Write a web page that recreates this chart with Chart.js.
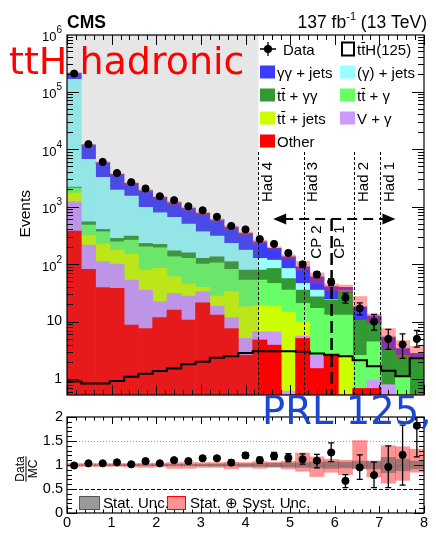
<!DOCTYPE html>
<html>
<head>
<meta charset="utf-8">
<script src="https://cdn.jsdelivr.net/npm/chart.js@4.4.1/dist/chart.umd.min.js"></script>
<style>
  html, body { margin: 0; padding: 0; background: #fff; }
  #wrap { position: relative; width: 436px; height: 533px; overflow: hidden; background: #fff; }
  #main { position: absolute; left: 0; top: 0; width: 436px; height: 400px; }
  #ratio { position: absolute; left: 0; top: 400px; width: 436px; height: 133px; }
  #prl { position: absolute; left: 262px; top: 392px; font: 38.5px "DejaVu Sans", sans-serif; line-height: 1;
         color: #1c46d0; white-space: nowrap; pointer-events: none; }
</style>
</head>
<body>
<div id="wrap">
  <canvas id="main" width="436" height="400"></canvas>
  <canvas id="ratio" width="436" height="133"></canvas>
  <div id="prl">PRL 125,</div>
</div>
<script>
// ---- binning: 25 bins over the transformed BDT score [0, 8] ----
const binCenters = [0.16, 0.48, 0.80, 1.12, 1.44, 1.76, 2.08, 2.40, 2.72, 3.04, 3.36, 3.68, 4.00,
                    4.32, 4.64, 4.96, 5.28, 5.60, 5.92, 6.24, 6.56, 6.88, 7.20, 7.52, 7.84];

// ---- background components (events per bin) ----
const other   = [375, 81, 39, 38, 8.7, 7.6, 11.8, 15.8, 10.6, 21.2, 13, 7.6, 2.6, 4.8, 3.9, 0, 5.1, 1.53, 2.6, 0, 0.69, 0.69, 0, 0, 0];
const vGamma  = [836, 133, 71, 62, 44, 27.7, 10.3, 15.1, 17.2, 11.8, 5.6, 4.2, 2.5, 1.9, 2.75, 0.62, 0.5, 1.07, 0, 0, 0, 0.27, 0.8, 0, 0];
const ttJets  = [507, 97, 113, 75, 96, 43.4, 62, 29.2, 17.1, 6.3, 9.2, 21.2, 13, 12, 12, 14, 4.3, 0, 0, 2.6, 0, 0, 0, 0, 0];
const ttGamma = [381, 166, 142, 69, 112, 121, 108, 74, 81, 60.7, 77, 48, 34.6, 34, 27.4, 20.7, 10.8, 14.4, 10.4, 10.4, 1.9, 3.5, 0, 1.1, 0.2];
const ttGG    = [80, 67, 36, 36, 46, 29, 28, 36, 31, 26, 29, 29, 26, 26, 38, 20.7, 14.6, 10, 10.6, 20.7, 8.0, 4.85, 2.4, 1.5, 2.0];
const gJets   = [160800, 6076, 2820, 1656, 1216, 739, 560, 479, 339, 239, 173, 119, 96, 47, 33, 28, 10.9, 8.3, 0.5, 0.5, 0, 0, 0, 0, 0];
const ggJets  = [44000, 5120, 2560, 1694, 1007, 916, 665, 516, 434, 397, 275, 206, 167, 118, 71, 50, 43.6, 24.7, 16.4, 5.2, 7.5, 3.2, 2.2, 0.8, 0.6];

// ---- signal (ttH, mH = 125 GeV) ----
const tth = [0.91, 0.84, 0.84, 0.93, 1.10, 1.24, 1.39, 1.53, 1.82, 2.00, 2.35, 2.50, 2.86,
             3.05, 3.05, 3.05, 3.00, 2.80, 2.65, 2.50, 2.14, 1.68, 1.40, 1.12, 2.30];

// ---- observed data ----
const dataObs    = [204900, 12150, 5980, 3830, 2650, 2060, 1510, 1290, 1010, 860, 664, 460, 400,
                    272, 224, 156, 99, 66, 49, 26, 17, 10, 5, 4, 5];
const obsErrUp   = [450, 110, 77, 62, 51, 45, 39, 36, 32, 29, 26, 21, 20, 17, 15, 12.5, 10, 8.2, 7.1, 5.3, 4.2, 3.3, 2.3, 2.1, 2.0];
const obsErrDown = [450, 110, 77, 62, 51, 45, 39, 36, 32, 29, 26, 21, 20, 17, 15, 12.5, 10, 8.0, 6.9, 5.0, 3.9, 2.9, 1.7, 1.7, 1.4];

// ---- data / MC ratio ----
const ratio        = [0.99, 1.035, 1.035, 1.055, 1.015, 1.08, 1.035, 1.10, 1.08, 1.14, 1.14, 1.05, 1.20,
                      1.10, 1.19, 1.15, 1.12, 1.09, 1.26, 0.67, 0.95, 0.79, 0.96, 1.21, 1.82];
const ratioErrUp   = [0.003, 0.01, 0.013, 0.017, 0.02, 0.024, 0.028, 0.032, 0.035, 0.04, 0.045, 0.05, 0.055,
                      0.065, 0.075, 0.085, 0.11, 0.13, 0.20, 0.13, 0.26, 0.27, 0.44, 0.62, 0.90];
const ratioErrDown = [0.003, 0.01, 0.013, 0.017, 0.02, 0.024, 0.028, 0.032, 0.035, 0.04, 0.045, 0.05, 0.055,
                      0.065, 0.075, 0.085, 0.10, 0.15, 0.19, 0.14, 0.25, 0.26, 0.43, 0.63, 0.65];
const systUp   = [1.03, 1.03, 1.03, 1.03, 1.03, 1.04, 1.04, 1.05, 1.05, 1.05, 1.05, 1.06, 1.05,
                  1.07, 1.06, 1.08, 1.25, 1.17, 1.12, 1.10, 1.51, 1.08, 1.40, 1.38, 1.33];
const systDown = [0.97, 0.97, 0.97, 0.97, 0.96, 0.95, 0.96, 0.93, 0.93, 0.95, 0.95, 0.92, 0.95,
                  0.93, 0.95, 0.92, 0.87, 0.76, 0.85, 0.80, 0.93, 0.75, 0.62, 0.68, 0.85];
const statUp   = [1.003, 1.005, 1.006, 1.008, 1.01, 1.01, 1.012, 1.013, 1.015, 1.017, 1.02, 1.022, 1.025,
                  1.03, 1.035, 1.04, 1.05, 1.06, 1.07, 1.06, 1.08, 1.08, 1.16, 1.12, 1.08];
const statDown = [0.997, 0.995, 0.994, 0.992, 0.99, 0.99, 0.988, 0.987, 0.985, 0.983, 0.98, 0.978, 0.975,
                  0.97, 0.965, 0.96, 0.95, 0.94, 0.93, 0.94, 0.92, 0.92, 0.84, 0.88, 0.92];

// ---- category boundaries and labels ----
const catBounds = [4.29, 5.30, 6.43, 7.02];
const catLabels = ['Had 4', 'Had 3', 'Had 2', 'Had 1'];
const cpBound = 5.93;
const cpLabels = ['CP 2', 'CP 1'];
const arrowRange = [4.62, 7.36];

// ---- tick labels ----
const xTickLabels = ['0', '1', '2', '3', '4', '5', '6', '7', '8'];
const ratioTickValues = [0, 0.5, 1, 1.5, 2];
const ratioTickLabels = ['0', '0.5', '1', '1.5', '2'];
const logDecades = [0, 1, 2, 3, 4, 5, 6];

const FONT = '"Liberation Sans", Arial, Helvetica, sans-serif';

const stackDefs = [
  { label: 'Other',      values: other,   color: '#ff0000' },
  { label: 'V + γ',      values: vGamma,  color: '#cc99ff' },
  { label: 'tt\u0304 + jets', values: ttJets,  color: '#ccff00' },
  { label: 'tt\u0304 + γ',    values: ttGamma, color: '#66ff66' },
  { label: 'tt\u0304 + γγ',   values: ttGG,    color: '#339933' },
  { label: '(γ) + jets', values: gJets,   color: '#99ffff' },
  { label: 'γγ + jets',  values: ggJets,  color: '#3c3cff' },
];
const totalMC = binCenters.map((_, i) => stackDefs.reduce((s, d) => s + d.values[i], 0));

// draws a string on an alphabetic baseline; a character followed by U+0304 gets a bar over it
function drawBarredText(ctx, text, x, y, size) {
  let cx = x;
  const chars = Array.from(text);
  for (let i = 0; i < chars.length; i++) {
    const ch = chars[i];
    if (ch === '\u0304') continue;
    const w = ctx.measureText(ch).width;
    ctx.fillText(ch, cx, y);
    if (chars[i + 1] === '\u0304') {
      ctx.save();
      ctx.strokeStyle = '#000';
      ctx.lineWidth = 1.1;
      ctx.beginPath();
      ctx.moveTo(cx + 0.2, y - size * 0.80);
      ctx.lineTo(cx + w - 0.2, y - size * 0.80);
      ctx.stroke();
      ctx.restore();
    }
    cx += w;
  }
  return cx - x;
}

// vertical error bars with small caps, drawn just before the markers
const errorBarPlugin = {
  id: 'errorBars',
  beforeDatasetDraw(chart, args) {
    const ds = chart.data.datasets[args.index];
    if (!ds.errUp) return;
    const { ctx, chartArea: a, scales: { x, y } } = chart;
    ctx.save();
    ctx.beginPath();
    ctx.rect(a.left, a.top, a.right - a.left, a.bottom - a.top);
    ctx.clip();
    ctx.strokeStyle = '#000';
    ctx.lineWidth = 1.3;
    ds.data.forEach((p, i) => {
      const px = x.getPixelForValue(p.x);
      const hi = y.getPixelForValue(p.y + ds.errUp[i]);
      const lo = y.getPixelForValue(Math.max(p.y - ds.errDown[i], y.min));
      ctx.beginPath();
      ctx.moveTo(px, hi); ctx.lineTo(px, lo);
      ctx.moveTo(px - 3, hi); ctx.lineTo(px + 3, hi);
      ctx.moveTo(px - 3, lo); ctx.lineTo(px + 3, lo);
      ctx.stroke();
    });
    ctx.restore();
  }
};

const BAND_INDEX = stackDefs.length;

const mainDecor = {
  id: 'mainDecor',
  afterDatasetDraw(chart, args) {
    if (args.index !== BAND_INDEX) return;
    // shaded region below the lowest category boundary
    const { ctx, chartArea: a, scales: { x } } = chart;
    const xr = x.getPixelForValue(catBounds[0]);
    ctx.save();
    ctx.fillStyle = 'rgba(128,128,128,0.2)';
    ctx.fillRect(a.left, a.top, xr - a.left, a.bottom - a.top);
    ctx.restore();
  },
  afterDraw(chart) {
    const { ctx, chartArea: a, scales: { x, y } } = chart;
    ctx.save();

    // category boundaries
    ctx.strokeStyle = '#000';
    ctx.lineWidth = 1;
    ctx.setLineDash([3, 2]);
    catBounds.forEach(v => {
      const px = Math.round(x.getPixelForValue(v)) + 0.5;
      ctx.beginPath(); ctx.moveTo(px, a.top + 117); ctx.lineTo(px, a.bottom); ctx.stroke();
    });
    ctx.setLineDash([]);

    // direction arrow
    const ay = a.top + 184;
    const ax0 = x.getPixelForValue(arrowRange[0]);
    const ax1 = x.getPixelForValue(arrowRange[1]);
    ctx.lineWidth = 2;
    ctx.setLineDash([10, 6]);
    ctx.beginPath(); ctx.moveTo(ax0 + 10, ay); ctx.lineTo(ax1 - 10, ay); ctx.stroke();
    ctx.setLineDash([]);
    ctx.fillStyle = '#000';
    ctx.beginPath(); ctx.moveTo(ax0, ay); ctx.lineTo(ax0 + 13, ay - 5.5); ctx.lineTo(ax0 + 13, ay + 5.5); ctx.closePath(); ctx.fill();
    ctx.beginPath(); ctx.moveTo(ax1, ay); ctx.lineTo(ax1 - 13, ay - 5.5); ctx.lineTo(ax1 - 13, ay + 5.5); ctx.closePath(); ctx.fill();

    // CP boundary
    const cpx = x.getPixelForValue(cpBound);
    ctx.lineWidth = 2.5;
    ctx.setLineDash([12, 5]);
    ctx.beginPath(); ctx.moveTo(cpx, ay); ctx.lineTo(cpx, a.bottom); ctx.stroke();
    ctx.setLineDash([]);

    // rotated category labels
    ctx.font = '15px ' + FONT;
    ctx.textAlign = 'center';
    ctx.textBaseline = 'middle';
    const rot = (txt, cx, cy) => {
      ctx.save(); ctx.translate(cx, cy); ctx.rotate(-Math.PI / 2); ctx.fillText(txt, 0, 0); ctx.restore();
    };
    catBounds.forEach((v, i) => rot(catLabels[i], x.getPixelForValue(v) + 9.5, a.top + 147));
    rot(cpLabels[0], cpx - 14.5, a.top + 207);
    rot(cpLabels[1], cpx + 8.5, a.top + 207);

    // frame
    ctx.lineWidth = 1.2;
    ctx.strokeRect(a.left, a.top, a.right - a.left, a.bottom - a.top);

    // x ticks (inward, top and bottom)
    ctx.lineWidth = 1;
    for (let k = 0; k <= 40; k++) {
      const px = Math.round(x.getPixelForValue(k * 0.2)) + 0.5;
      const len = k % 5 === 0 ? 10 : 5;
      ctx.beginPath();
      ctx.moveTo(px, a.bottom); ctx.lineTo(px, a.bottom - len);
      ctx.moveTo(px, a.top); ctx.lineTo(px, a.top + len);
      ctx.stroke();
    }
    // log y ticks (inward, left and right)
    for (let e = -1; e <= 5; e++) {
      for (let m = 1; m <= 9; m++) {
        const v = m * Math.pow(10, e);
        if (v < y.min || v > y.max) continue;
        const py = Math.round(y.getPixelForValue(v)) + 0.5;
        const len = m === 1 ? 12 : 6;
        ctx.beginPath();
        ctx.moveTo(a.left, py); ctx.lineTo(a.left + len, py);
        ctx.moveTo(a.right, py); ctx.lineTo(a.right - len, py);
        ctx.stroke();
      }
    }
    // y tick labels
    ctx.fillStyle = '#000';
    ctx.textAlign = 'right';
    ctx.textBaseline = 'middle';
    logDecades.forEach(e => {
      const py = y.getPixelForValue(Math.pow(10, e));
      const xr = a.left - 5;
      if (e === 0) { ctx.font = '14px ' + FONT; ctx.fillText('1', xr, py); return; }
      if (e === 1) { ctx.font = '14px ' + FONT; ctx.fillText('10', xr, py); return; }
      ctx.font = '10px ' + FONT;
      const sw = ctx.measureText(String(e)).width;
      ctx.fillText(String(e), xr, py - 4);
      ctx.font = '13px ' + FONT;
      ctx.fillText('10', xr - sw, py + 3);
    });

    // axis title
    ctx.save();
    ctx.font = '15.5px ' + FONT;
    ctx.translate(25.5, 190);
    ctx.rotate(-Math.PI / 2);
    ctx.textAlign = 'right';
    ctx.textBaseline = 'middle';
    ctx.fillText('Events', 0, 0);
    ctx.restore();

    // header
    ctx.textBaseline = 'alphabetic';
    ctx.textAlign = 'left';
    ctx.font = 'bold 17.5px ' + FONT;
    ctx.fillText('CMS', a.left, 28);
    const lumiA = '137 fb', lumiSup = '-1', lumiB = ' (13 TeV)';
    ctx.font = '17.5px ' + FONT;
    const wA = ctx.measureText(lumiA).width, wB = ctx.measureText(lumiB).width;
    ctx.font = '11px ' + FONT;
    const wS = ctx.measureText(lumiSup).width;
    let lx = 427 - (wA + wS + wB);
    ctx.font = '17.5px ' + FONT; ctx.fillText(lumiA, lx, 28); lx += wA;
    ctx.font = '11px ' + FONT; ctx.fillText(lumiSup, lx, 20); lx += wS;
    ctx.font = '17.5px ' + FONT; ctx.fillText(lumiB, lx, 28);

    // legend
    ctx.font = '15px ' + FONT;
    ctx.textBaseline = 'alphabetic';
    const col1 = a.left + 193, col2 = a.left + 273;
    const row = i => a.top + 14 + 23 * i;
    const base = i => row(i) + 5.5;
    // data entry
    ctx.lineWidth = 1.3;
    ctx.beginPath();
    ctx.moveTo(col1, row(0)); ctx.lineTo(col1 + 16, row(0));
    ctx.moveTo(col1 + 8, row(0) - 7); ctx.lineTo(col1 + 8, row(0) + 7);
    ctx.stroke();
    ctx.beginPath(); ctx.arc(col1 + 8, row(0), 4, 0, Math.PI * 2); ctx.fill();
    ctx.fillText('Data', col1 + 23, base(0));
    // signal entry
    ctx.lineWidth = 2;
    ctx.strokeRect(col2 + 2, row(0) - 6.5, 12, 13);
    drawBarredText(ctx, 'tt\u0304H(125)', col2 + 17, base(0), 15);
    const legendGrid = [
      [6, 1, 0], [5, 1, 1],
      [4, 2, 0], [3, 2, 1],
      [2, 3, 0], [1, 3, 1],
      [0, 4, 0],
    ];
    legendGrid.forEach(([di, r, c]) => {
      const d = stackDefs[di];
      const bx = c === 0 ? col1 : col2;
      ctx.fillStyle = d.color;
      ctx.fillRect(bx, row(r) - 6.5, 15, 13);
      ctx.fillStyle = '#000';
      drawBarredText(ctx, d.label, bx + 17, base(r), 15);
    });

    // annotation
    ctx.font = '38px "DejaVu Sans", sans-serif';
    ctx.textBaseline = 'alphabetic';
    ctx.fillStyle = '#ff0000';
    ctx.fillText('ttH hadronic', 9, 74);
    ctx.restore();
  }
};

const mainChart = new Chart(document.getElementById('main'), {
  type: 'bar',
  data: {
    datasets: [
      ...stackDefs.map(d => ({
        label: d.label,
        data: binCenters.map((x, i) => ({ x, y: d.values[i] })),
        backgroundColor: d.color,
        borderWidth: 0,
        barPercentage: 1,
        categoryPercentage: 1,
        stack: 'bkg',
        order: 3,
      })),
      {
        label: 'Syst. band',
        data: binCenters.map((x, i) => ({ x, y: [totalMC[i] * systDown[i], totalMC[i] * systUp[i]] })),
        backgroundColor: 'rgba(255,40,40,0.42)',
        borderWidth: 0,
        barPercentage: 1,
        categoryPercentage: 1,
        grouped: false,
        stack: 'band',
        order: 2,
      },
      {
        type: 'line',
        label: 'ttH(125)',
        data: [{ x: 0, y: tth[0] }, ...binCenters.map((x, i) => ({ x, y: tth[i] })), { x: 8, y: tth[tth.length - 1] }],
        stepped: 'middle',
        borderColor: '#000',
        borderWidth: 2,
        pointRadius: 0,
        fill: false,
        stack: 'sig',
        order: 1,
      },
      {
        type: 'line',
        label: 'Data',
        data: binCenters.map((x, i) => ({ x, y: dataObs[i] })),
        showLine: false,
        pointRadius: 3.6,
        pointBackgroundColor: '#000',
        pointBorderColor: '#000',
        pointBorderWidth: 1,
        errUp: obsErrUp,
        errDown: obsErrDown,
        stack: 'obs',
        order: 0,
      },
    ],
  },
  options: {
    responsive: false,
    animation: false,
    devicePixelRatio: 1,
    layout: { padding: { left: 67, right: 12, top: 35, bottom: 5 } },
    plugins: { legend: { display: false }, tooltip: { enabled: false } },
    scales: {
      x: { type: 'linear', min: 0, max: 8, offset: false, stacked: true, display: false },
      y: { type: 'logarithmic', min: 0.53, max: 9.6e5, stacked: true, display: false },
    },
  },
  plugins: [errorBarPlugin, mainDecor],
});

const ratioDecor = {
  id: 'ratioDecor',
  beforeDatasetsDraw(chart) {
    const { ctx, chartArea: a, scales: { y } } = chart;
    ctx.save();
    ctx.lineWidth = 1;
    ctx.strokeStyle = '#999';
    ctx.setLineDash([1, 2]);
    [1.5, 1].forEach(v => {
      const py = Math.round(y.getPixelForValue(v)) + 0.5;
      ctx.beginPath(); ctx.moveTo(a.left, py); ctx.lineTo(a.right, py); ctx.stroke();
    });
    ctx.strokeStyle = '#000';
    ctx.setLineDash([4, 2]);
    const p5 = Math.round(y.getPixelForValue(0.5)) + 0.5;
    ctx.beginPath(); ctx.moveTo(a.left, p5); ctx.lineTo(a.right, p5); ctx.stroke();
    ctx.restore();
  },
  afterDraw(chart) {
    const { ctx, chartArea: a, scales: { x, y } } = chart;
    ctx.save();
    ctx.strokeStyle = '#000';
    ctx.fillStyle = '#000';
    ctx.lineWidth = 1.2;
    ctx.strokeRect(a.left, a.top, a.right - a.left, a.bottom - a.top);
    ctx.lineWidth = 1;
    for (let k = 0; k <= 40; k++) {
      const px = Math.round(x.getPixelForValue(k * 0.2)) + 0.5;
      const len = k % 5 === 0 ? 7 : 3.5;
      ctx.beginPath();
      ctx.moveTo(px, a.bottom); ctx.lineTo(px, a.bottom - len);
      ctx.moveTo(px, a.top); ctx.lineTo(px, a.top + len);
      ctx.stroke();
    }
    for (let k = 0; k <= 20; k++) {
      const py = Math.round(y.getPixelForValue(k * 0.1)) + 0.5;
      const len = k % 5 === 0 ? 10 : 5;
      ctx.beginPath();
      ctx.moveTo(a.left, py); ctx.lineTo(a.left + len, py);
      ctx.moveTo(a.right, py); ctx.lineTo(a.right - len, py);
      ctx.stroke();
    }
    ctx.font = '14.5px ' + FONT;
    ctx.textAlign = 'right';
    ctx.textBaseline = 'middle';
    ratioTickValues.forEach((v, i) => ctx.fillText(ratioTickLabels[i], a.left - 4, y.getPixelForValue(v)));
    ctx.textAlign = 'center';
    ctx.textBaseline = 'top';
    xTickLabels.forEach((t, i) => ctx.fillText(t, x.getPixelForValue(i), a.bottom + 3));

    // axis title as a fraction
    ctx.save();
    ctx.translate(25.5, (a.top + a.bottom) / 2 + 4);
    ctx.rotate(-Math.PI / 2);
    ctx.font = '12px ' + FONT;
    ctx.textAlign = 'center';
    ctx.textBaseline = 'alphabetic';
    const wD = ctx.measureText('Data').width;
    ctx.fillText('Data', 0, -2);
    ctx.textBaseline = 'top';
    ctx.fillText('MC', 0, 2);
    ctx.lineWidth = 1;
    ctx.beginPath(); ctx.moveTo(-wD / 2, 0.5); ctx.lineTo(wD / 2, 0.5); ctx.stroke();
    ctx.restore();

    // band legend
    const ly = a.bottom - 17;
    ctx.fillStyle = '#9a9a9a';
    ctx.fillRect(a.left + 12, ly, 21, 14);
    ctx.strokeStyle = '#555';
    ctx.strokeRect(a.left + 12.5, ly + 0.5, 20, 13);
    ctx.fillStyle = 'rgba(255,40,40,0.5)';
    ctx.fillRect(a.left + 100, ly, 19, 14);
    ctx.strokeStyle = '#ff0000';
    ctx.strokeRect(a.left + 100.5, ly + 0.5, 18, 13);
    ctx.fillStyle = '#000';
    ctx.font = '15px ' + FONT;
    ctx.textAlign = 'left';
    ctx.textBaseline = 'alphabetic';
    ctx.fillText('Stat. Unc.', a.left + 36, ly + 12);
    ctx.fillText('Stat. \u2295 Syst. Unc.', a.left + 123, ly + 12);
    ctx.restore();
  }
};

const ratioChart = new Chart(document.getElementById('ratio'), {
  type: 'bar',
  data: {
    datasets: [
      {
        label: 'Stat. \u2295 Syst. Unc.',
        data: binCenters.map((x, i) => ({ x, y: [systDown[i], systUp[i]] })),
        backgroundColor: 'rgba(255,40,40,0.5)',
        borderWidth: 0,
        barPercentage: 1,
        categoryPercentage: 1,
        grouped: false,
        order: 3,
      },
      {
        label: 'Stat. Unc.',
        data: binCenters.map((x, i) => ({ x, y: [statDown[i], statUp[i]] })),
        backgroundColor: 'rgba(90,90,90,0.55)',
        borderWidth: 0,
        barPercentage: 1,
        categoryPercentage: 1,
        grouped: false,
        order: 2,
      },
      {
        type: 'line',
        label: 'Data/MC',
        data: binCenters.map((x, i) => ({ x, y: ratio[i] })),
        showLine: false,
        pointRadius: 3.6,
        pointBackgroundColor: '#000',
        pointBorderColor: '#000',
        pointBorderWidth: 1,
        errUp: ratioErrUp,
        errDown: ratioErrDown,
        order: 0,
      },
    ],
  },
  options: {
    responsive: false,
    animation: false,
    devicePixelRatio: 1,
    layout: { padding: { left: 67, right: 12, top: 17, bottom: 20 } },
    plugins: { legend: { display: false }, tooltip: { enabled: false } },
    scales: {
      x: { type: 'linear', min: 0, max: 8, offset: false, display: false },
      y: { type: 'linear', min: 0, max: 2, display: false },
    },
  },
  plugins: [errorBarPlugin, ratioDecor],
});
</script>
</body>
</html>
